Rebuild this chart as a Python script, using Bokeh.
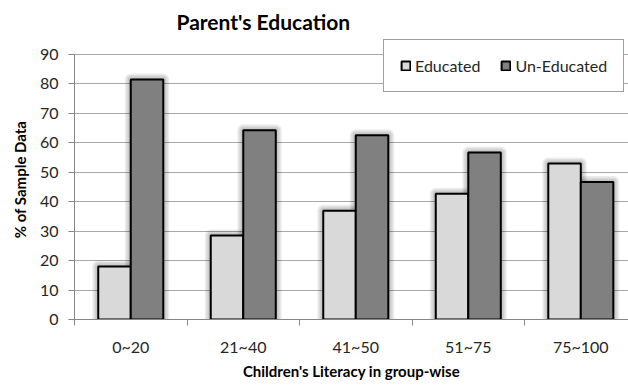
from bokeh.plotting import figure
from bokeh.models import (Range1d, FixedTicker, Legend, LegendItem, ColumnDataSource)
from bokeh.embed import file_html
from bokeh.resources import INLINE

# Literacy groups and share of sample (%) by parent's education
groups = ["0~20", "21~40", "41~50", "51~75", "75~100"]
educated = [18.0, 28.5, 36.9, 42.7, 53.0]
uneducated = [81.5, 64.3, 62.6, 56.7, 46.7]
y_ticks = list(range(0, 91, 10))

FONT = "Lato"
BAR_W = 0.289

centers = [i + 0.5 for i in range(len(groups))]
bounds = [float(i) for i in range(len(groups) + 1)]

src = ColumnDataSource(dict(
    xe=[c - BAR_W / 2 for c in centers],
    xu=[c + BAR_W / 2 for c in centers],
    edu=educated,
    unedu=uneducated,
))

# frame reaches a little above 90 so the legend box can sit over the top gridline
p = figure(width=628, height=386, output_backend="svg", toolbar_location=None,
           x_range=Range1d(0, 4.924), y_range=Range1d(0, 95.1),
           min_border_left=74, min_border_right=0, min_border_top=38,
           min_border_bottom=67)
p.outline_line_color = None
p.background_fill_color = "white"
p.border_fill_color = "white"

# title
p.title.text = "Parent's Education"
p.title.text_font = FONT
p.title.text_font_size = "21px"
p.title.text_font_style = "bold"
p.title.text_color = "#000000"
p.title.align = "left"
p.title.offset = 102
p.title.standoff = 12

# grid
p.xgrid.grid_line_color = None
p.ygrid.grid_line_color = "#a8a8a8"
p.ygrid.grid_line_width = 1
p.yaxis.ticker = FixedTicker(ticks=y_ticks)
p.yaxis.bounds = (y_ticks[0], y_ticks[-1])

# x axis: labels at group centres, tick marks at group boundaries
p.xaxis.ticker = FixedTicker(ticks=centers, minor_ticks=bounds)
p.xaxis.major_label_overrides = {c: g for c, g in zip(centers, groups)}
p.xaxis.major_tick_line_color = None
p.xaxis.major_tick_out = 6
p.xaxis.major_tick_in = 0
p.xaxis.minor_tick_out = 6
p.xaxis.minor_tick_in = 0
p.xaxis.minor_tick_line_color = "#868686"
p.xaxis.major_label_standoff = 11
p.xaxis.axis_label = "Children's Literacy in group-wise"
p.xaxis.axis_label_standoff = 3

p.yaxis.major_tick_out = 6
p.yaxis.major_tick_in = 0
p.yaxis.minor_tick_line_color = None
p.yaxis.major_tick_line_color = "#868686"
p.yaxis.major_label_standoff = 10
p.yaxis.axis_label = "% of Sample Data"
p.yaxis.axis_label_standoff = 8

for ax in (p.xaxis, p.yaxis):
    ax.axis_line_color = "#868686"
    ax.major_label_text_font = FONT
    ax.major_label_text_font_size = "16px"
    ax.major_label_text_color = "#262626"
    ax.axis_label_text_font = FONT
    ax.axis_label_text_font_size = "15px"
    ax.axis_label_text_font_style = "bold"
    ax.axis_label_text_color = "#000000"

# soft shadow around bars
for lw in (12, 9, 6, 3):
    for col in ("xe", "xu"):
        top = "edu" if col == "xe" else "unedu"
        p.vbar(x=col, top=top, bottom=0, width=BAR_W, source=src,
               fill_color=None, line_color="black", line_alpha=0.07,
               line_width=lw, line_join="round")

r_edu = p.vbar(x="xe", top="edu", bottom=0, width=BAR_W, source=src,
               fill_color="#d9d9d9", line_color="#000000", line_width=2)
r_unedu = p.vbar(x="xu", top="unedu", bottom=0, width=BAR_W, source=src,
                 fill_color="#808080", line_color="#000000", line_width=2)

legend = Legend(items=[LegendItem(label="Educated", renderers=[r_edu]),
                       LegendItem(label="Un-Educated", renderers=[r_unedu])],
                orientation="horizontal", location=(309, 227),
                padding=16, spacing=20, margin=0,
                glyph_width=11, glyph_height=11, label_height=11,
                label_standoff=4,
                label_text_font=FONT, label_text_font_size="16px",
                label_text_color="#262626",
                border_line_color="#404040", border_line_width=1,
                background_fill_color="white", background_fill_alpha=1)
p.add_layout(legend, "center")

open("out.html", "w").write(file_html(p, INLINE))
